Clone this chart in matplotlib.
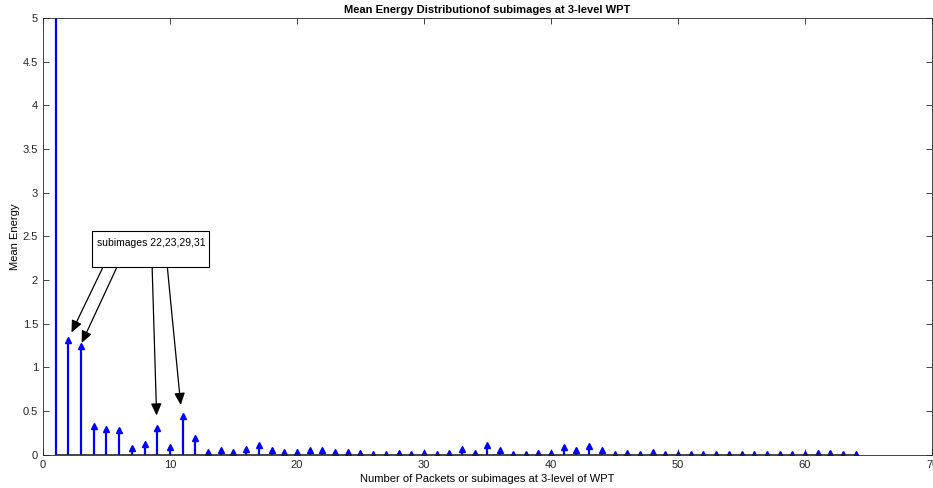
import numpy as np
import matplotlib
matplotlib.use('Agg')
import matplotlib.pyplot as plt
from matplotlib.patches import Rectangle

plt.rcParams['font.family'] = ['Liberation Sans', 'DejaVu Sans']

# packet index and mean energy values
packets = np.arange(1, 65)
energy = [12.0, 1.31, 1.24, 0.33, 0.30, 0.28, 0.08, 0.12, 0.31, 0.09,
          0.45, 0.19, 0.03, 0.05, 0.03, 0.07, 0.11, 0.06, 0.03, 0.03,
          0.05, 0.05, 0.03, 0.03, 0.02, 0.01, 0.01, 0.02, 0.01, 0.02,
          0.01, 0.02, 0.07, 0.02, 0.11, 0.05, 0.01, 0.01, 0.02, 0.02,
          0.09, 0.05, 0.10, 0.05, 0.01, 0.02, 0.01, 0.03, 0.01, 0.01,
          0.01, 0.01, 0.01, 0.01, 0.01, 0.01, 0.01, 0.01, 0.01, 0.01,
          0.02, 0.02, 0.01, 0.01]

# annotation: text box and arrow start/end points (data coords)
note_text = 'subimages 22,23,29,31'
arrow_starts = [(4.7, 2.14), (5.8, 2.14), (8.6, 2.14), (9.8, 2.14)]
arrow_ends = [(2.25, 1.40), (3.05, 1.28), (8.95, 0.45), (10.85, 0.57)]

fig = plt.figure(figsize=(9.33, 4.88), dpi=100)
ax = fig.add_axes([0.046, 0.068, 0.953, 0.895])

ml, sl, bl = ax.stem(packets, energy, linefmt='b-', markerfmt='b^', basefmt='k-')
plt.setp(sl, linewidth=1.6)
plt.setp(ml, markersize=4.5)
plt.setp(bl, linewidth=1.2, color='#262626')

ax.set_xlim(0, 70)
ax.set_ylim(0, 5)
ax.set_xticks(np.arange(0, 71, 10))
ax.set_yticks(np.arange(0, 5.01, 0.5))
ax.set_yticklabels(['0', '0.5', '1', '1.5', '2', '2.5', '3', '3.5', '4', '4.5', '5'])

ax.tick_params(direction='in', top=True, right=True, labelsize=8,
               colors='#262626', length=4, width=0.6)
for s in ax.spines.values():
    s.set_color('#262626')
    s.set_linewidth(0.6)

ax.set_title('Mean Energy Distributionof subimages at 3-level WPT',
             fontsize=8, fontweight='bold', pad=4)
ax.set_xlabel('Number of Packets or subimages at 3-level of WPT', fontsize=8, labelpad=3)
ax.set_ylabel('Mean Energy', fontsize=8, labelpad=2)

ax.add_patch(Rectangle((3.85, 2.15), 9.2, 0.41, fc='white', ec='black', lw=0.8, zorder=4))
ax.text(4.25, 2.43, note_text, fontsize=7.5, va='center', ha='left', zorder=5)

for (x0, y0), (x1, y1) in zip(arrow_starts, arrow_ends):
    ax.annotate('', xy=(x1, y1), xytext=(x0, y0),
                arrowprops=dict(arrowstyle='-|>,head_length=0.45,head_width=0.2',
                                color='black', lw=0.9,
                                mutation_scale=16, shrinkA=0, shrinkB=0))

fig.savefig('out.png', dpi=100)
